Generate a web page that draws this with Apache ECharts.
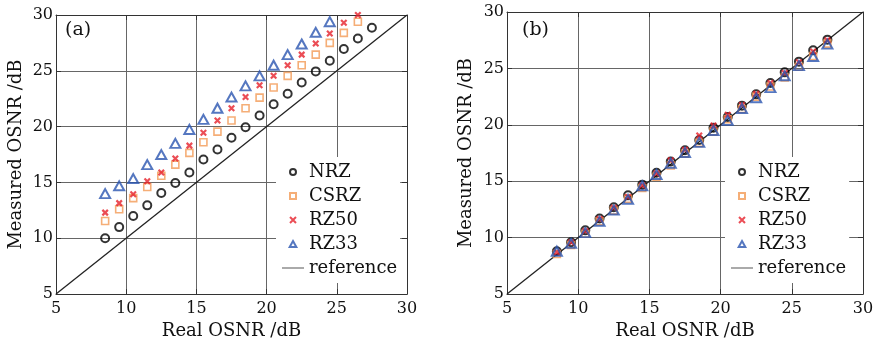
<!DOCTYPE html>
<html><head><meta charset="utf-8">
<script src="https://cdn.jsdelivr.net/npm/echarts@6/dist/echarts.min.js"></script>
<style>html,body{margin:0;padding:0;background:#fff}#c{width:879px;height:345px}</style>
</head><body><div id="c"></div>
<script>
// Panel (a) data
const realA = [8.5,9.5,10.5,11.5,12.5,13.5,14.5,15.5,16.5,17.5,18.5,19.5,20.5,21.5,22.5,23.5,24.5,25.5,26.5,27.5];
const nrzA  = [10.0,11.0,12.0,12.95,14.05,14.95,15.9,17.05,17.95,19.0,19.95,21.0,22.0,22.95,23.95,24.95,25.9,26.95,27.9,28.85];
const csrzA = [11.55,12.6,13.6,14.6,15.6,16.6,17.65,18.6,19.55,20.55,21.65,22.6,23.5,24.55,25.5,26.45,27.5,28.4,29.4];
const rz50A = [12.3,13.15,13.95,15.1,15.9,17.15,18.3,19.45,20.55,21.65,22.65,23.7,24.55,25.5,26.45,27.45,28.35,29.3,30.0];
const rz33A = [14.0,14.7,15.35,16.6,17.5,18.5,19.75,20.65,21.65,22.65,23.65,24.55,25.5,26.45,27.4,28.45,29.4];
// Panel (b) data
const realB = [8.5,9.5,10.5,11.5,12.5,13.5,14.5,15.5,16.5,17.5,18.5,19.5,20.5,21.5,22.5,23.5,24.5,25.5,26.5,27.5];
const nrzB  = [8.8,9.6,10.65,11.7,12.7,13.75,14.7,15.75,16.75,17.75,18.65,19.75,20.7,21.7,22.7,23.7,24.65,25.6,26.6,27.55];
const csrzB = [8.55,9.35,10.35,11.45,12.4,13.45,14.4,15.4,16.4,17.45,18.4,19.4,20.5,21.4,22.5,23.4,24.2,25.15,26.1,27.2];
const rz50B = [8.7,9.6,10.6,11.65,12.65,13.6,14.65,15.7,16.85,17.8,19.05,19.95,20.9,21.75,22.75,23.7,24.6,25.55,26.5,27.5];
const rz33B = [8.8,9.5,10.45,11.45,12.45,13.4,14.6,15.6,16.6,17.55,18.45,19.5,20.4,21.45,22.4,23.3,24.35,25.25,26.05,27.15];
const refLine = [5, 30];
const names = ['NRZ','CSRZ','RZ50','RZ33','reference'];
const panelLabels = ['(a)','(b)'];
const xTitle = 'Real OSNR /dB';
const yTitle = 'Measured OSNR /dB';

const FONT = 'DejaVu Serif';
const pairs = (xs, ys) => ys.map((y, i) => [xs[i], y]);
const NONE = 'rgba(255,255,255,0)';

const styles = {
  NRZ:  {symbol:'circle', symbolSize:8, itemStyle:{color:NONE, borderColor:'#000', borderWidth:2}},
  CSRZ: {symbol:'rect', symbolSize:7, itemStyle:{color:NONE, borderColor:'#f29a55', borderWidth:1.6}},
  RZ50: {symbol:'path://M0,0L10,10M10,0L0,10', symbolSize:5.5, itemStyle:{color:NONE, borderColor:'#e6202a', borderWidth:2.2}},
  RZ33: {symbol:'triangle', symbolSize:[10,9], itemStyle:{color:NONE, borderColor:'#2a55b0', borderWidth:2}}
};
const legendIcons = {
  NRZ: 'circle',
  CSRZ: 'path://M0,0L10,0L10,10L0,10Z',
  RZ50: 'path://M0,0L10,10M10,0L0,10',
  RZ33: 'path://M5,0L10,9L0,9Z',
  reference: 'path://M0,0L40,0L40,1.3L0,1.3Z'
};

function scatter(name, xs, ys, idx) {
  return Object.assign({type:'scatter', name, xAxisIndex: idx*2, yAxisIndex: idx*2, data: pairs(xs, ys), emphasis:{disabled:true}}, styles[name]);
}
function ref(idx) {
  return {type:'line', name:'reference', xAxisIndex: idx*2, yAxisIndex: idx*2, data: [[refLine[0],refLine[0]],[refLine[1],refLine[1]]],
    symbol:'none', lineStyle:{color:'#222', width:1.3}, itemStyle:{color:'#222'}, z:1};
}

const grids = [
  {left:56, top:15, width:351, height:281},
  {left:507, top:12, width:356, height:286}
];

const xAxes = [], yAxes = [];
grids.forEach((g, i) => {
  const base = {min:5, max:30, interval:5, gridIndex:i, type:'value'};
  xAxes.push(Object.assign({}, base, {
    position:'bottom', name:xTitle, nameLocation:'middle', nameGap:27,
    nameTextStyle:{fontFamily:FONT, fontSize:18, color:'#111'},
    axisLine:{show:true, onZero:false, lineStyle:{color:'#333', width:1}},
    axisTick:{show:true, inside:true, length:5, lineStyle:{color:'#333'}},
    axisLabel:{fontFamily:FONT, fontSize:16, color:'#111', margin:7, showMinLabel:true, showMaxLabel:true},
    splitLine:{show:true, lineStyle:{color:'#666', width:1}}
  }));
  xAxes.push(Object.assign({}, base, {
    position:'top',
    axisLine:{show:true, onZero:false, lineStyle:{color:'#333', width:1}},
    axisTick:{show:true, inside:true, length:5, lineStyle:{color:'#333'}},
    axisLabel:{show:false}, splitLine:{show:false}
  }));
  yAxes.push(Object.assign({}, base, {
    position:'left', name:yTitle, nameLocation:'middle', nameGap: i===0 ? 31 : 32,
    nameTextStyle:{fontFamily:FONT, fontSize:18, color:'#111'},
    axisLine:{show:true, onZero:false, lineStyle:{color:'#333', width:1}},
    axisTick:{show:true, inside:true, length:5, lineStyle:{color:'#333'}},
    axisLabel:{fontFamily:FONT, fontSize:16, color:'#111', margin:3, showMinLabel:true, showMaxLabel:true},
    splitLine:{show:true, lineStyle:{color:'#666', width:1}}
  }));
  yAxes.push(Object.assign({}, base, {
    position:'right',
    axisLine:{show:true, onZero:false, lineStyle:{color:'#333', width:1}},
    axisTick:{show:true, inside:true, length:5, lineStyle:{color:'#333'}},
    axisLabel:{show:false}, splitLine:{show:false}
  }));
});

const legendBase = {
  orient:'vertical',
  data: names.map(n => n === 'reference'
    ? {name:n, icon: legendIcons[n], itemStyle:{color:'#111'}}
    : {name:n, icon: legendIcons[n]}),
  itemWidth:22, itemHeight:6, itemGap:6, symbolKeepAspect:true,
  textStyle:{fontFamily:FONT, fontSize:18, color:'#111', lineHeight:18},
  backgroundColor:'#fff', padding:[6,3,6,6], selectedMode:false, z:5
};

const option = {
  animation:false,
  backgroundColor:'#fff',
  grid: grids,
  xAxis: xAxes,
  yAxis: yAxes,
  legend: [
    Object.assign({}, legendBase, {left:276, top:157}),
    Object.assign({}, legendBase, {left:725, top:157})
  ],
  graphic: [
    {type:'text', left:65, top:21, style:{text:panelLabels[0], font:'19px "DejaVu Serif"', fill:'#111'}},
    {type:'text', left:522, top:21, style:{text:panelLabels[1], font:'19px "DejaVu Serif"', fill:'#111'}}
  ],
  series: [
    ref(0),
    scatter('NRZ', realA, nrzA, 0),
    scatter('CSRZ', realA, csrzA, 0),
    scatter('RZ50', realA, rz50A, 0),
    scatter('RZ33', realA, rz33A, 0),
    ref(1),
    scatter('NRZ', realB, nrzB, 1),
    scatter('CSRZ', realB, csrzB, 1),
    scatter('RZ50', realB, rz50B, 1),
    scatter('RZ33', realB, rz33B, 1)
  ]
};
echarts.init(document.getElementById('c'), null, {renderer:'canvas'}).setOption(option);
</script></body></html>
